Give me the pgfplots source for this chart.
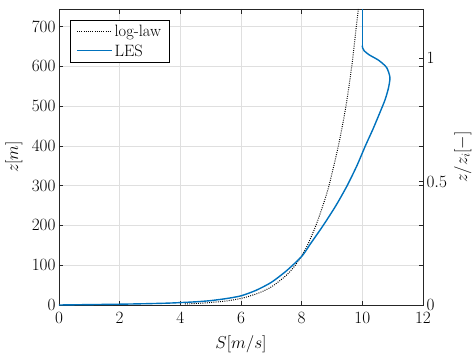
\documentclass[border=0pt]{standalone}
\usepackage{pgfplots}
\pgfplotsset{compat=1.18}
\definecolor{lesblue}{RGB}{0,114,189}
\definecolor{axgray}{RGB}{38,38,38}
\definecolor{gridgray}{RGB}{223,223,223}

\begin{document}
\begin{tikzpicture}
\pgfplotsset{
  every axis/.append style={font=\fontsize{16.5}{20}\selectfont},
  common/.style={
    scale only axis, width=364bp, height=296bp,
    xmin=0, xmax=12,
    axis line style={axgray, line width=0.7bp},
    tick style={axgray, line width=0.6bp},
    tick align=inside, major tick length=4.5bp,
  },
  loglaw/.style={black, line width=1bp, dash pattern=on 0.9bp off 1.3bp},
  les/.style={lesblue, line width=1.4bp},
}
% wind speed profile, height in metres
\begin{axis}[common, name=main,
  ymin=0, ymax=744,
  xtick={0,2,...,12}, ytick={0,100,...,700},
  xticklabel style={yshift=-4bp},
  grid=major, major grid style={gridgray, line width=0.6bp},
  xlabel={$S[m/s]$}, ylabel={$z[m]$},
  xlabel style={at={(axis description cs:0.5,-0.1453)}, anchor=base},
  ylabel style={at={(axis description cs:-0.1126,0.5)}, anchor=base},
  legend style={at={(0.03,0.963)}, anchor=north west, draw=black,
    line width=0.6bp, fill=white, inner xsep=6bp, inner ysep=3bp,
    row sep=2.5bp, font=\fontsize{16.5}{20}\selectfont},
  legend cell align=left,
  legend image code/.code={\draw[#1] (0bp,0.5bp) -- (35bp,0.5bp);},
]
\addplot[loglaw, smooth, tension=0.5]
  coordinates {
  (4.15,2.6) (4.30,3) (4.79,5) (5.49,10) (5.90,15) (6.18,20)
  (6.58,30) (6.87,40) (7.09,50) (7.50,75) (7.79,100) (8.01,125)
  (8.19,150) (8.47,200) (8.70,250) (8.90,300) (9.21,400)
  (9.46,500) (9.65,600) (9.80,700) (9.87,744)
};
\addlegendentry{log-law}
\addplot[les, smooth, tension=0.4]
  coordinates {
  (0,0) (1,1) (2,2) (3,3.5) (3.7,5) (4.5,8) (5,11) (5.5,16) (6,23)
  (6.5,37) (7,57) (7.5,86) (8,122) (8.3,155) (8.71,200) (9.13,250)
  (9.50,300) (9.82,350) (10.10,400) (10.35,442) (10.57,482)
  (10.75,516) (10.86,545) (10.91,572) (10.8,597) (10.54,615)
  (10.22,629) (10.06,639) (10.01,646) (10.0,652)
};
\addlegendentry{LES}
\addplot[les, forget plot]
  coordinates {(10.0,652) (10.0,744)};
\end{axis}
% normalised height on the right
\begin{axis}[common,
  ymin=0, ymax=1.2, ytick={0,0.5,1},
  axis x line=none, axis y line*=right,
  ylabel={$z/z_i[-]$},
  ylabel style={at={(axis description cs:1.1209,0.5)}, anchor=base},
]
\end{axis}
\pgfresetboundingbox
\path ([shift={(-59bp,-51bp)}]main.south west) rectangle ([shift={(51bp,9bp)}]main.north east);
\end{tikzpicture}
\end{document}
